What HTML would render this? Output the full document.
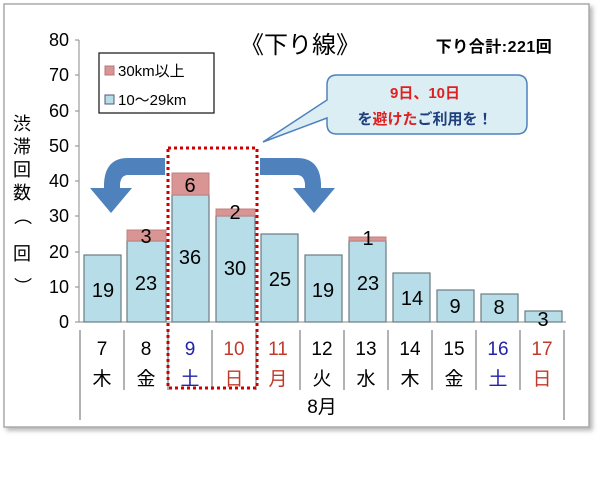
<!DOCTYPE html>
<html><head><meta charset="utf-8"><style>
body{margin:0;width:600px;height:491px;background:#fff;overflow:hidden}
</style></head><body>
<svg width="600" height="491" xmlns="http://www.w3.org/2000/svg" font-family="Liberation Sans, Noto Sans CJK JP, sans-serif">
<defs><filter id="sh"><feDropShadow dx="3" dy="3" stdDeviation="2" flood-color="#888" flood-opacity="0.6"/></filter></defs>
<rect x="4" y="4" width="585" height="423" fill="#fff" stroke="#aaa" stroke-width="1.5" filter="url(#sh)"/>
<text x="300" y="53" font-size="24" text-anchor="middle">《下り線》</text>
<text x="494" y="52" font-size="16" font-weight="bold" text-anchor="middle" letter-spacing="0.5">下り合計:221回</text>
<g font-size="18" text-anchor="end">
<text x="69" y="46">80</text><text x="69" y="81">70</text><text x="69" y="117">60</text><text x="69" y="152">50</text><text x="69" y="187">40</text><text x="69" y="222">30</text><text x="69" y="258">20</text><text x="69" y="293">10</text><text x="69" y="328">0</text>
</g>
<g stroke="#888" stroke-width="1">
<line x1="79" y1="40" x2="79" y2="322"/>
<line x1="75" y1="40" x2="79" y2="40"/><line x1="75" y1="75" x2="79" y2="75"/><line x1="75" y1="111" x2="79" y2="111"/><line x1="75" y1="146" x2="79" y2="146"/><line x1="75" y1="181" x2="79" y2="181"/><line x1="75" y1="216" x2="79" y2="216"/><line x1="75" y1="252" x2="79" y2="252"/><line x1="75" y1="287" x2="79" y2="287"/>
<line x1="75" y1="322" x2="566" y2="322"/>
</g>
<g font-size="18" text-anchor="middle">
<text x="22" y="130">渋</text><text x="22" y="153">滞</text><text x="22" y="176">回</text><text x="22" y="199">数</text>
<text x="22" y="222" transform="rotate(90 22 216)">（</text><text x="22" y="260">回</text><text x="22" y="292" transform="rotate(90 22 286)">）</text>
</g>
<rect x="99" y="53" width="115" height="60" fill="#fff" stroke="#222" stroke-width="1.3"/>
<rect x="105" y="66" width="9" height="9" fill="#d99594" stroke="#b77"/>
<text x="118" y="76" font-size="15">30km以上</text>
<rect x="105" y="95" width="9" height="9" fill="#b7dde8" stroke="#557"/>
<text x="118" y="105" font-size="15">10～29km</text>
<g stroke="#6b7b83" stroke-width="1.2" fill="#b7dde8">
<rect x="84" y="255" width="37" height="67"/>
<rect x="127" y="241" width="39" height="81"/>
<rect x="172" y="195" width="37" height="127"/>
<rect x="216" y="216" width="39" height="106"/>
<rect x="261" y="234" width="37" height="88"/>
<rect x="305" y="255" width="37" height="67"/>
<rect x="349" y="241" width="37" height="81"/>
<rect x="393" y="273" width="37" height="49"/>
<rect x="437" y="290" width="37" height="32"/>
<rect x="481" y="294" width="37" height="28"/>
<rect x="525" y="311" width="37" height="11"/>
</g>
<g fill="#d99594" stroke="#c08080" stroke-width="1">
<rect x="127" y="230" width="39" height="11"/>
<rect x="172" y="173" width="37" height="22"/>
<rect x="216" y="209" width="39" height="7"/>
<rect x="349" y="237" width="37" height="4"/>
</g>
<g font-size="20" text-anchor="middle">
<text x="103" y="297">19</text><text x="146" y="290">23</text><text x="146" y="243">3</text>
<text x="190" y="264">36</text><text x="190" y="192">6</text>
<text x="235" y="275">30</text><text x="235" y="219">2</text>
<text x="280" y="286">25</text><text x="323" y="297">19</text>
<text x="368" y="290">23</text><text x="368" y="245">1</text>
<text x="412" y="305">14</text><text x="455" y="313">9</text><text x="499" y="314">8</text><text x="543" y="326">3</text>
</g>
<g stroke="#666" stroke-width="1">
<line x1="80" y1="330" x2="80" y2="420"/><line x1="564" y1="330" x2="564" y2="420"/>
<line x1="124" y1="330" x2="124" y2="390"/><line x1="168" y1="330" x2="168" y2="390"/><line x1="212" y1="330" x2="212" y2="390"/><line x1="256" y1="330" x2="256" y2="390"/><line x1="300" y1="330" x2="300" y2="390"/><line x1="344" y1="330" x2="344" y2="390"/><line x1="388" y1="330" x2="388" y2="390"/><line x1="432" y1="330" x2="432" y2="390"/><line x1="476" y1="330" x2="476" y2="390"/><line x1="520" y1="330" x2="520" y2="390"/>
</g>
<g font-size="19" text-anchor="middle">
<text x="102" y="355">7</text><text x="102" y="385">木</text>
<text x="146" y="355">8</text><text x="146" y="385">金</text>
<text x="190" y="355" fill="#2222aa">9</text><text x="190" y="385" fill="#2222aa">土</text>
<text x="234" y="355" fill="#c0392b">10</text><text x="234" y="385" fill="#c0392b">日</text>
<text x="278" y="355" fill="#c0392b">11</text><text x="278" y="385" fill="#c0392b">月</text>
<text x="322" y="355">12</text><text x="322" y="385">火</text>
<text x="366" y="355">13</text><text x="366" y="385">水</text>
<text x="410" y="355">14</text><text x="410" y="385">木</text>
<text x="454" y="355">15</text><text x="454" y="385">金</text>
<text x="498" y="355" fill="#2222aa">16</text><text x="498" y="385" fill="#2222aa">土</text>
<text x="542" y="355" fill="#c0392b">17</text><text x="542" y="385" fill="#c0392b">日</text>
<text x="322" y="413">8月</text>
</g>
<rect x="168" y="148" width="89" height="240" fill="none" stroke="#c00" stroke-width="3" stroke-dasharray="3 3"/>
<g fill="#4f81bd">
<path d="M165 158 L128 158 Q105 158 104 184 L104 188 L90 188 L111 213 L132 188 L120 188 L120 184 Q121 175 128 175 L165 175 Z"/>
<path d="M260 158 L297 158 Q320 158 321 184 L321 188 L335 188 L314 213 L293 188 L305 188 L305 184 Q304 175 297 175 L260 175 Z"/>
</g>
<path d="M337 75 L517 75 Q527 75 527 85 L527 124 Q527 134 517 134 L337 134 Q327 134 327 124 L327 118 L263 142 L327 100 L327 85 Q327 75 337 75 Z" fill="#dbeef4" stroke="#4f81bd" stroke-width="1.5"/>
<text x="425" y="98" font-size="15" font-weight="bold" fill="#e02020" text-anchor="middle">9日、10日</text>
<text x="425" y="124" font-size="15" font-weight="bold" fill="#1f3f7f" text-anchor="middle">を<tspan fill="#e02020">避けた</tspan>ご利用を！</text>
</svg>
</body></html>
